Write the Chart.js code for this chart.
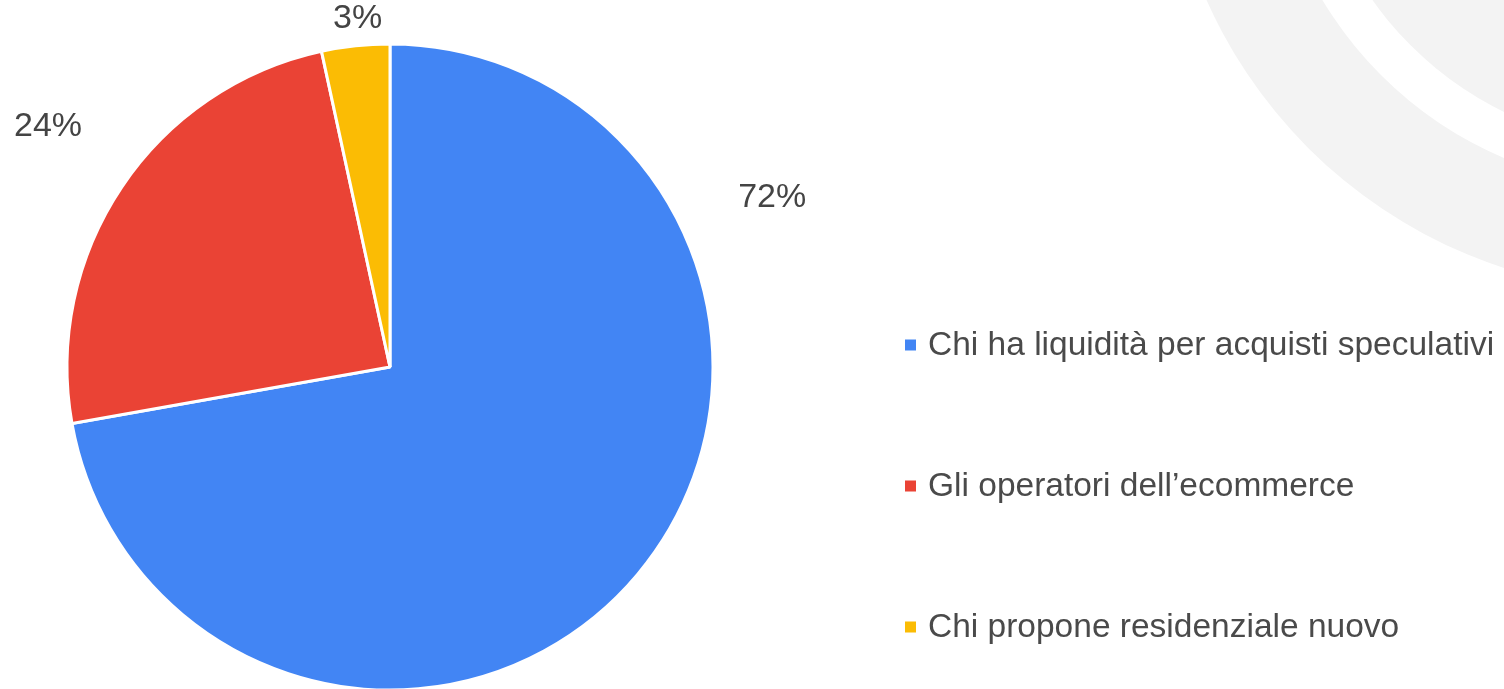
<!DOCTYPE html>
<html>
<head>
<meta charset="utf-8">
<script src="https://cdn.jsdelivr.net/npm/chart.js@4/dist/chart.umd.min.js"></script>
<style>
  html, body { margin: 0; padding: 0; background: #ffffff; }
  #wrap { position: relative; width: 1504px; height: 689px; }
</style>
</head>
<body>
<div id="wrap"><canvas id="c" width="1504" height="689"></canvas></div>
<script>
const categories = [
  "Chi ha liquidità per acquisti speculativi",
  "Gli operatori dell\u2019ecommerce",
  "Chi propone residenziale nuovo"
];
const shares = [72.2, 24.4, 3.4];
const sliceColors = ["#4285F4", "#EA4335", "#FBBC04"];

const bgDecor = {
  id: 'bgDecor',
  beforeDraw(chart) {
    const ctx = chart.ctx;
    ctx.save();
    const cx = 1656, cy = -200;
    ctx.fillStyle = '#f3f3f3';
    ctx.beginPath(); ctx.arc(cx, cy, 492, 0, Math.PI * 2); ctx.fill();
    ctx.fillStyle = '#ffffff';
    ctx.beginPath(); ctx.arc(cx, cy, 389, 0, Math.PI * 2); ctx.fill();
    ctx.fillStyle = '#f3f3f3';
    ctx.beginPath(); ctx.arc(cx, cy, 347, 0, Math.PI * 2); ctx.fill();
    ctx.restore();
  }
};

const sliceLabels = {
  id: 'sliceLabels',
  afterDatasetsDraw(chart, args, opts) {
    const ctx = chart.ctx;
    const meta = chart.getDatasetMeta(0);
    const data = chart.data.datasets[0].data;
    const total = data.reduce((a, b) => a + b, 0);
    ctx.save();
    ctx.font = opts.font;
    ctx.fillStyle = opts.color;
    ctx.textAlign = 'center';
    ctx.textBaseline = 'middle';
    meta.data.forEach((arc, i) => {
      const p = arc.getProps(['x', 'y', 'startAngle', 'endAngle', 'outerRadius'], true);
      const place = opts.placement[i] || {};
      const ang = place.angle !== undefined ? place.angle * Math.PI / 180 : (p.startAngle + p.endAngle) / 2;
      const d = p.outerRadius + (place.gap || 0);
      const x = p.x + Math.cos(ang) * d;
      const y = p.y + Math.sin(ang) * d;
      ctx.fillText(Math.round(data[i] / total * 100) + '%', x, y);
    });
    ctx.restore();
  }
};

const sideLegend = {
  id: 'sideLegend',
  afterDraw(chart, args, opts) {
    const ctx = chart.ctx;
    const labels = chart.data.labels;
    const colors = chart.data.datasets[0].backgroundColor;
    ctx.save();
    ctx.font = opts.font;
    ctx.textBaseline = 'middle';
    ctx.textAlign = 'left';
    labels.forEach((lab, i) => {
      const y = opts.top + i * opts.step;
      ctx.fillStyle = colors[i];
      ctx.fillRect(opts.left, y - opts.box / 2, opts.box, opts.box);
      ctx.fillStyle = opts.color;
      ctx.fillText(lab, opts.left + opts.textGap, y + 1);
    });
    ctx.restore();
  }
};

new Chart(document.getElementById('c'), {
  type: 'pie',
  data: {
    labels: categories,
    datasets: [{
      data: shares,
      backgroundColor: sliceColors,
      borderColor: '#ffffff',
      borderWidth: 3
    }]
  },
  options: {
    responsive: false,
    animation: false,
    radius: 323,
    layout: { padding: { left: 0, right: 724, top: 45, bottom: 0 } },
    plugins: {
      legend: { display: false },
      tooltip: { enabled: false },
      sliceLabels: {
        font: '34px "Liberation Sans", Arial, sans-serif',
        color: '#444444',
        placement: [ { angle: -23.9, gap: 95 }, { angle: -144.9, gap: 95 }, { angle: -95.3, gap: 27 } ]
      },
      sideLegend: {
        font: '33.5px "Liberation Sans", Arial, sans-serif',
        color: '#4a4a4a',
        left: 905, textGap: 23, top: 345, step: 141, box: 11
      }
    }
  },
  plugins: [bgDecor, sliceLabels, sideLegend]
});
</script>
</body>
</html>
